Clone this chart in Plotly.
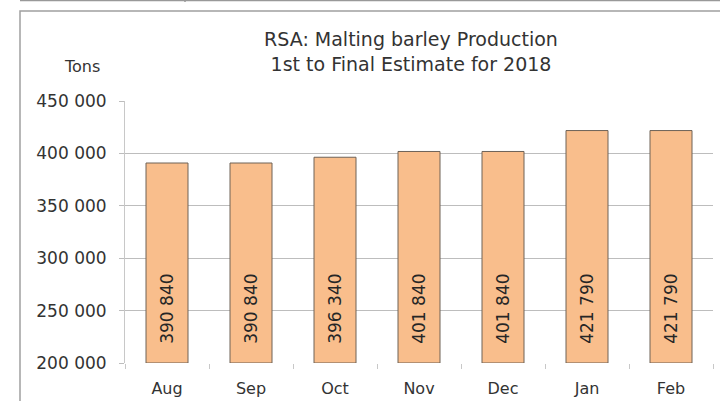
import plotly.graph_objects as go

# Malting barley production estimates (tons)
months = ["Aug", "Sep", "Oct", "Nov", "Dec", "Jan", "Feb"]
production = [390840, 390840, 396340, 401840, 401840, 421790, 421790]
y_ticks = [200000, 250000, 300000, 350000, 400000, 450000]
y_min, y_max = 200000, 450000

# labels use a space as thousands separator; nbsp padding lifts them off the base
labels = ["\u00a0\u00a0\u00a0" + f"{v:,}".replace(",", " ") for v in production]

W, H = 720, 401
L, R, T, B = 125, 7, 101, 38


def px_x(p):
    return (p - L) / (W - L - R)


def px_y(p):
    return 1 - (p - T) / (H - T - B)


FONT = "DejaVu Sans"

fig = go.Figure(go.Bar(
    x=months,
    y=[v - y_min for v in production],
    base=y_min,
    text=labels,
    textposition="inside",
    insidetextanchor="start",
    textangle=-90,
    textfont=dict(size=17, color="#262626", family=FONT),
    marker=dict(color="#F9BE8C", line=dict(color="#6E6257", width=1)),
    width=0.5,
    hovertext=labels,
))

fig.update_layout(
    width=W, height=H,
    margin=dict(l=L, r=R, t=T, b=B),
    plot_bgcolor="white",
    paper_bgcolor="white",
    separators=". ",
    showlegend=False,
    font=dict(family=FONT, color="#333333"),
    title=dict(
        text="RSA: Malting barley Production<br>1st to Final Estimate for 2018",
        x=px_x(411), xanchor="center", xref="paper",
        y=1 - 46 / H, yanchor="top",
        font=dict(size=19, color="#333333"),
    ),
    xaxis=dict(
        tickson="boundaries", ticks="outside", ticklen=5, tickcolor="#C8C8C8",
        showline=False, showgrid=False, ticklabelstandoff=14, automargin=False,
        tickfont=dict(size=16, color="#333333"),
    ),
    yaxis=dict(
        range=[y_min, y_max], tickvals=y_ticks, tickformat=",",
        showgrid=True, gridcolor="#BDBDBD", gridwidth=1,
        showline=True, linecolor="#C8C8C8", automargin=False,
        ticks="outside", ticklen=5, tickcolor="#BDBDBD", ticklabelstandoff=9,
        tickfont=dict(size=17, color="#333333"),
    ),
    annotations=[dict(
        text="Tons", xref="paper", yref="paper",
        x=px_x(82), y=px_y(67), xanchor="center", yanchor="middle",
        showarrow=False,
        font=dict(size=16, color="#333333"),
    )],
    shapes=[
        # outer chart frame
        dict(type="rect", xref="paper", yref="paper",
             x0=px_x(20), x1=px_x(730), y0=px_y(430), y1=px_y(11),
             line=dict(color="#A0A0A0", width=1.5)),
        dict(type="line", xref="paper", yref="paper",
             x0=px_x(20), x1=px_x(720), y0=px_y(0.5), y1=px_y(0.5),
             line=dict(color="#999999", width=1.5)),
        dict(type="line", xref="paper", yref="paper",
             x0=px_x(185), x1=px_x(185), y0=px_y(0), y1=px_y(2),
             line=dict(color="#999999", width=1.5)),
    ],
)

fig.write_html("out.html", config={"displayModeBar": False},
               post_script="document.body.style.margin='0';")
